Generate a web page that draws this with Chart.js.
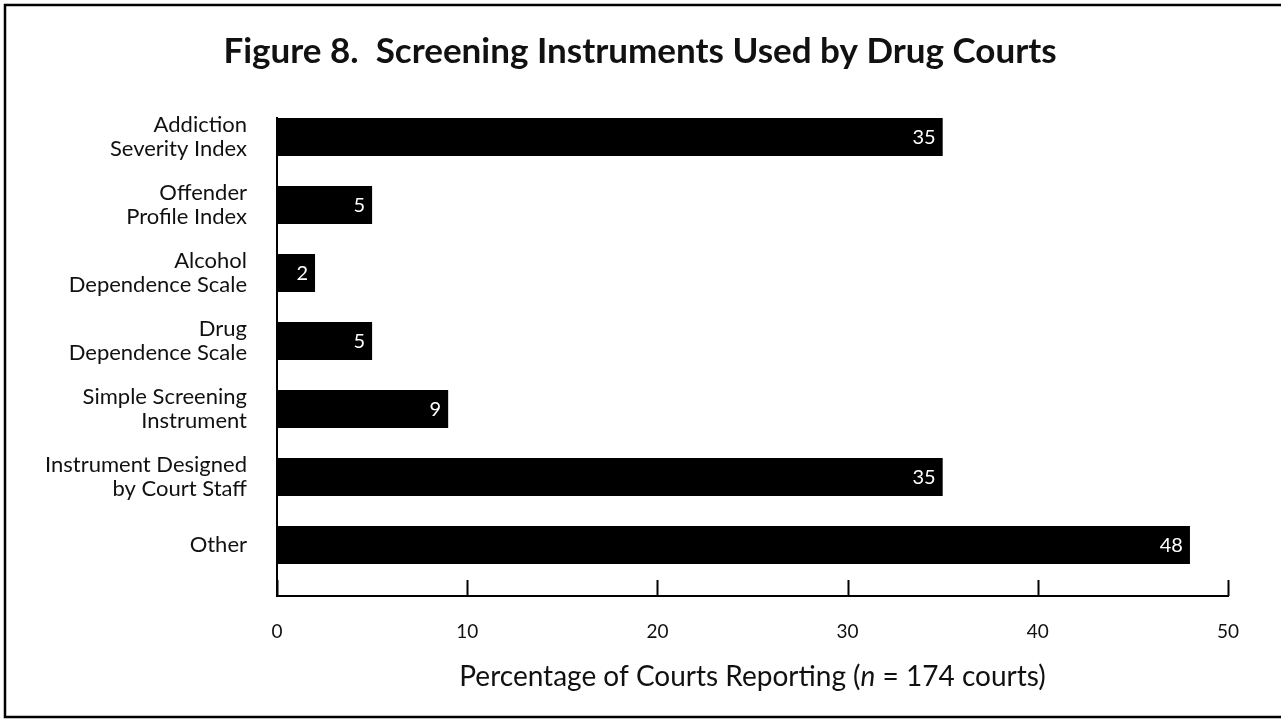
<!DOCTYPE html>
<html>
<head>
<meta charset="utf-8">
<script src="https://cdn.jsdelivr.net/npm/chart.js@4/dist/chart.umd.min.js"></script>
<style>
  body { margin: 0; background: #fff; }
  #wrap { width: 1281px; height: 719px; position: relative; }
</style>
</head>
<body>
<div id="wrap"><canvas id="chart8"></canvas></div>
<script>
const categories = [
  ["Addiction", "Severity Index"],
  ["Offender", "Profile Index"],
  ["Alcohol", "Dependence Scale"],
  ["Drug", "Dependence Scale"],
  ["Simple Screening", "Instrument"],
  ["Instrument Designed", "by Court Staff"],
  ["Other"]
];
const percents = [35, 5, 2, 5, 9, 35, 48];
const xTicks = [0, 10, 20, 30, 40, 50];
const titleText = "Figure 8.  Screening Instruments Used by Drug Courts";
const xTitleParts = ["Percentage of Courts Reporting (", "n", " = 174 courts)"];

const ink = "#111";
const fontName = "Lato";

// frame round the figure, white background, title
const framePlugin = {
  id: "frame",
  beforeDraw(chart) {
    const ctx = chart.ctx;
    ctx.save();
    ctx.fillStyle = "#fff";
    ctx.fillRect(0, 0, chart.width, chart.height);
    ctx.strokeStyle = "#000";
    ctx.lineWidth = 2.5;
    ctx.strokeRect(5, 5, chart.width + 20, chart.height - 7);

    ctx.fillStyle = ink;
    ctx.font = "bold 35px " + fontName;
    ctx.textAlign = "center";
    ctx.textBaseline = "alphabetic";
    ctx.fillText(titleText, 640, 63);
    ctx.restore();
  }
};

// tick marks pointing up, bar values, axis title with italic n
const extrasPlugin = {
  id: "extras",
  afterDraw(chart) {
    const ctx = chart.ctx;
    const xs = chart.scales.x;
    const area = chart.chartArea;
    ctx.save();
    ctx.strokeStyle = "#000";
    ctx.lineWidth = 2;
    xTicks.forEach(v => {
      const px = Math.round(xs.getPixelForValue(v)) + 0.5;
      ctx.beginPath();
      ctx.moveTo(px, area.bottom);
      ctx.lineTo(px, area.bottom - 16);
      ctx.stroke();
    });

    const meta = chart.getDatasetMeta(0);
    ctx.fillStyle = "#fff";
    ctx.font = "20px " + fontName;
    ctx.textAlign = "right";
    ctx.textBaseline = "middle";
    meta.data.forEach((bar, i) => {
      ctx.fillText(String(percents[i]), bar.x - 7, bar.y + 1);
    });

    ctx.fillStyle = ink;
    ctx.textAlign = "left";
    ctx.textBaseline = "alphabetic";
    const fonts = ["28px " + fontName, "italic 28px " + fontName, "28px " + fontName];
    let total = 0;
    const widths = xTitleParts.map((t, i) => {
      ctx.font = fonts[i];
      const w = ctx.measureText(t).width;
      total += w;
      return w;
    });
    let x = (area.left + area.right) / 2 - total / 2;
    xTitleParts.forEach((t, i) => {
      ctx.font = fonts[i];
      ctx.fillText(t, x, 686);
      x += widths[i];
    });
    ctx.restore();
  }
};

function makeChart(id) {
  const ctx = document.getElementById(id);
  return new Chart(ctx, {
    type: "bar",
    data: {
      datasets: [{
        label: "",
        data: percents.map((v, i) => ({ x: v, y: i })),
        backgroundColor: "#000",
        borderWidth: 0,
        barPercentage: 0.56,
        categoryPercentage: 1
      }]
    },
    options: {
      indexAxis: "y",
      responsive: true,
      maintainAspectRatio: false,
      animation: false,
      layout: { padding: { left: 0, right: 53, top: 118, bottom: 0 } },
      plugins: {
        legend: { display: false },
        tooltip: { enabled: false }
      },
      scales: {
        x: {
          type: "linear",
          min: 0,
          max: 50,
          offset: false,
          afterBuildTicks: s => { s.ticks = xTicks.map(v => ({ value: v })); },
          afterFit: s => { s.height = 123; },
          grid: { display: false, drawTicks: false },
          border: { display: true, color: "#000", width: 2 },
          ticks: {
            color: ink,
            padding: 24,
            font: { family: fontName, size: 19 }
          }
        },
        y: {
          type: "linear",
          reverse: true,
          offset: false,
          min: -0.28,
          max: 6.75,
          afterBuildTicks: s => { s.ticks = categories.map((c, i) => ({ value: i })); },
          afterFit: s => { s.width = 277; },
          grid: { display: false, drawTicks: false, offset: false },
          border: { display: true, color: "#000", width: 2 },
          ticks: {
            color: ink,
            padding: 30,
            font: { family: fontName, size: 22, lineHeight: 1.1 },
            callback: v => categories[v] || ""
          }
        }
      }
    },
    plugins: [framePlugin, extrasPlugin]
  });
}

const chart8 = makeChart("chart8");
</script>
</body>
</html>
